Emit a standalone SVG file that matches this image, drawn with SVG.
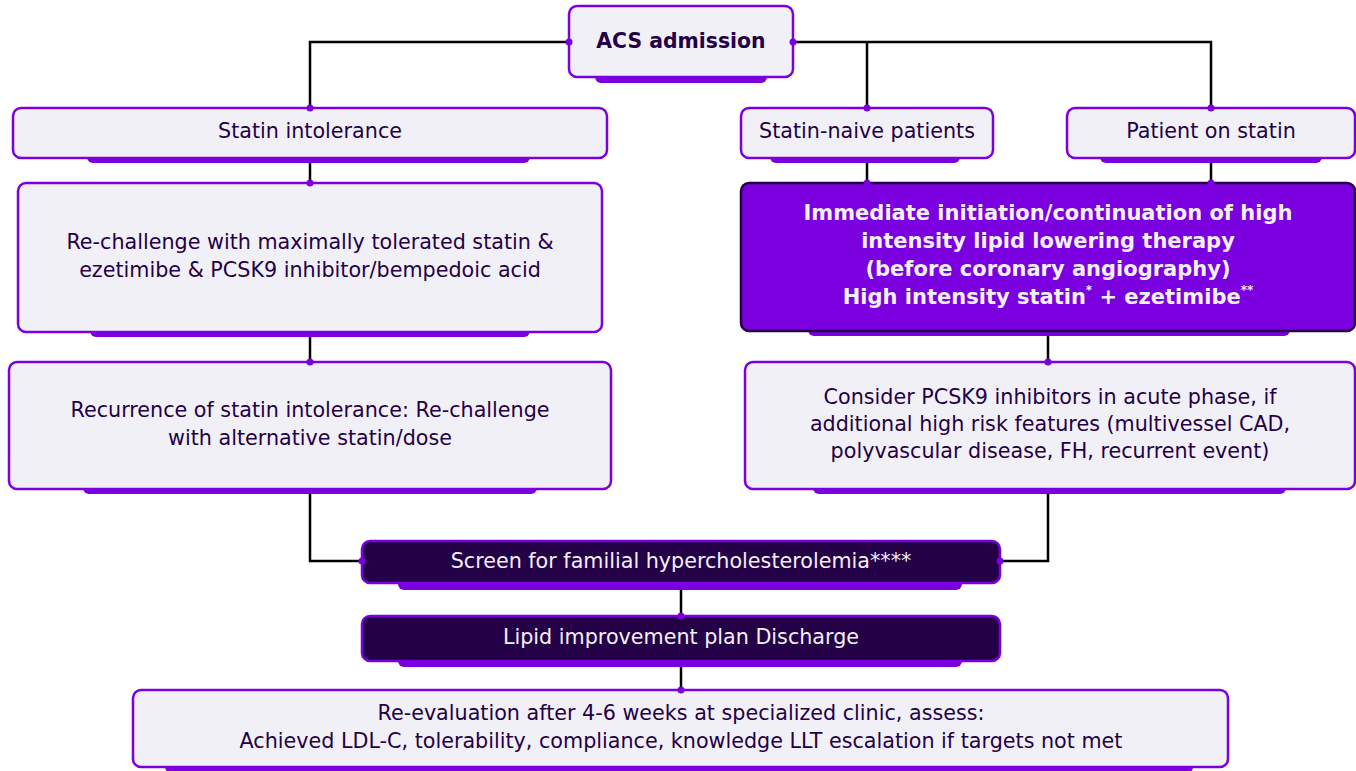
<svg xmlns="http://www.w3.org/2000/svg" width="1356" height="771" viewBox="0 0 1356 771">
<style>
.sh{fill:#7B00E0}
.lt{fill:#F2F0F7;stroke:#7B00E0;stroke-width:2.5}
.dk{fill:#240046;stroke:#7B00E0;stroke-width:2.5}
.pp{fill:#7B00E0;stroke:#240046;stroke-width:2.5}
text{font-family:"DejaVu Sans",Verdana,sans-serif;font-size:20.7px;text-anchor:middle;dominant-baseline:central}
.t{fill:#240046}
.w{fill:#F2F0F7}
.b{font-weight:bold;font-size:21px}
.a{font-weight:bold;font-size:20.4px}
.ln{fill:none;stroke:#000;stroke-width:2.5}
.dot{fill:#7B00E0}
</style>
<rect width="1356" height="771" fill="#fff"/>
<g id="connectors">
<path class="ln" d="M569,42 H310 V108"/>
<path class="ln" d="M793,42 H1211 V108"/>
<path class="ln" d="M867,42 V108"/>
<path class="ln" d="M310,158 V183"/>
<path class="ln" d="M310,332 V362"/>
<path class="ln" d="M310,489 V561 H362"/>
<path class="ln" d="M867,158 V183"/>
<path class="ln" d="M1211,158 V183"/>
<path class="ln" d="M1048,331 V362"/>
<path class="ln" d="M1048,489 V561 H1000"/>
<path class="ln" d="M681,583 V616"/>
<path class="ln" d="M681,661 V690"/>
</g>
<g id="acs">
<rect class="sh" x="595" y="66" width="172" height="17" rx="6"/>
<rect class="lt" x="569" y="6" width="224" height="71" rx="8"/>
<text class="t a" x="681" y="41">ACS admission</text>
</g>
<g id="statin-intolerance">
<rect class="sh" x="87" y="147" width="443" height="16" rx="6"/>
<rect class="lt" x="13" y="108" width="594" height="50" rx="8"/>
<text class="t" x="310" y="131">Statin intolerance</text>
</g>
<g id="statin-naive">
<rect class="sh" x="770" y="147" width="190" height="16" rx="6"/>
<rect class="lt" x="741" y="108" width="252" height="50" rx="8"/>
<text class="t" x="867" y="131">Statin-naive patients</text>
</g>
<g id="patient-on-statin">
<rect class="sh" x="1100" y="147" width="222" height="16" rx="6"/>
<rect class="lt" x="1067" y="108" width="288" height="50" rx="8"/>
<text class="t" x="1211" y="131">Patient on statin</text>
</g>
<g id="rechallenge">
<rect class="sh" x="90" y="320" width="440" height="17" rx="6"/>
<rect class="lt" x="18" y="183" width="584" height="149" rx="8"/>
<text class="t" x="310" y="242">Re-challenge with maximally tolerated statin &amp;</text>
<text class="t" x="310" y="270">ezetimibe &amp; PCSK9 inhibitor/bempedoic acid</text>
</g>
<g id="recurrence">
<rect class="sh" x="83" y="477" width="454" height="17" rx="6"/>
<rect class="lt" x="9" y="362" width="602" height="127" rx="8"/>
<text class="t" x="310" y="410">Recurrence of statin intolerance: Re-challenge</text>
<text class="t" x="310" y="438">with alternative statin/dose</text>
</g>
<g id="immediate">
<rect class="sh" x="808" y="320" width="482" height="16" rx="6"/>
<rect class="pp" x="741" y="183" width="614" height="148" rx="8"/>
<text class="w b" x="1048" y="213">Immediate initiation/continuation of high</text>
<text class="w b" x="1048" y="241">intensity lipid lowering therapy</text>
<text class="w b" x="1048" y="269">(before coronary angiography)</text>
<text class="w b" x="1048" y="297">High intensity statin<tspan font-size="12" dy="-7">*</tspan><tspan dy="7"> + ezetimibe</tspan><tspan font-size="12" dy="-7">**</tspan></text>
</g>
<g id="consider">
<rect class="sh" x="813" y="477" width="473" height="17" rx="6"/>
<rect class="lt" x="745" y="362" width="610" height="127" rx="8"/>
<text class="t" x="1050" y="397">Consider PCSK9 inhibitors in acute phase, if</text>
<text class="t" x="1050" y="424">additional high risk features (multivessel CAD,</text>
<text class="t" x="1050" y="451">polyvascular disease, FH, recurrent event)</text>
</g>
<g id="screen">
<rect class="sh" x="398" y="572" width="564" height="18" rx="6"/>
<rect class="dk" x="362" y="541" width="638" height="42" rx="8"/>
<text class="w" x="681" y="561">Screen for familial hypercholesterolemia****</text>
</g>
<g id="lipid">
<rect class="sh" x="398" y="650" width="564" height="17" rx="6"/>
<rect class="dk" x="362" y="616" width="638" height="45" rx="8"/>
<text class="w" x="681" y="637">Lipid improvement plan Discharge</text>
</g>
<g id="reevaluation">
<rect class="sh" x="165" y="757" width="1028" height="16" rx="6"/>
<rect class="lt" x="133" y="690" width="1095" height="77" rx="8"/>
<text class="t" x="681" y="713">Re-evaluation after 4-6 weeks at specialized clinic, assess:</text>
<text class="t" x="681" y="741">Achieved LDL-C, tolerability, compliance, knowledge LLT escalation if targets not met</text>
</g>
<g id="dots">
<circle class="dot" cx="569" cy="42" r="3.5"/>
<circle class="dot" cx="793" cy="42" r="3.5"/>
<circle class="dot" cx="310" cy="108" r="3.5"/>
<circle class="dot" cx="867" cy="108" r="3.5"/>
<circle class="dot" cx="1211" cy="108" r="3.5"/>
<circle class="dot" cx="310" cy="183" r="3.5"/>
<circle class="dot" cx="867" cy="183" r="3.5"/>
<circle class="dot" cx="1211" cy="183" r="3.5"/>
<circle class="dot" cx="310" cy="362" r="3.5"/>
<circle class="dot" cx="1048" cy="362" r="3.5"/>
<circle class="dot" cx="362" cy="561" r="3.5"/>
<circle class="dot" cx="1000" cy="561" r="3.5"/>
<circle class="dot" cx="681" cy="616" r="3.5"/>
<circle class="dot" cx="681" cy="690" r="3.5"/>
</g>
</svg>
